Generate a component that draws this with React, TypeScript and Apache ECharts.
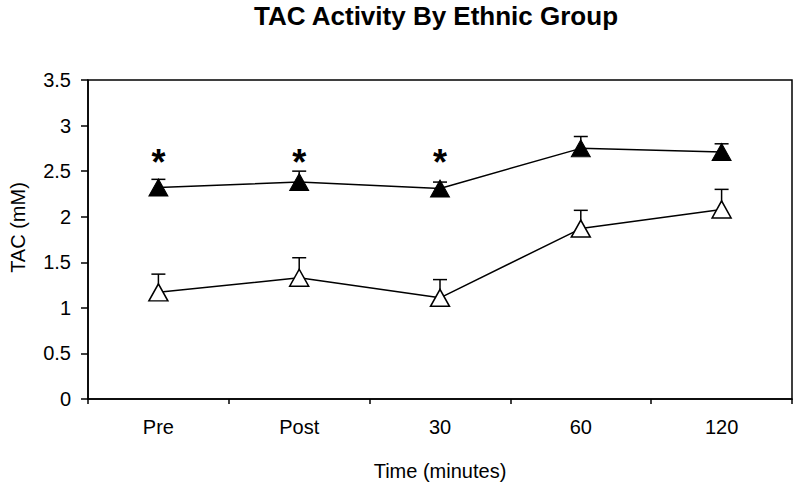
import React, { useEffect, useRef } from "react";
import * as echarts from "echarts";

const categories = ["Pre", "Post", "30", "60", "120"];
const yTicks = { min: 0, max: 3.5, interval: 0.5 };

// Filled triangles group
const groupAMeans = [2.32, 2.38, 2.31, 2.75, 2.71];
const groupAErr = [0.09, 0.12, 0.07, 0.13, 0.09];
// Open triangles group
const groupBMeans = [1.17, 1.33, 1.11, 1.87, 2.08];
const groupBErr = [0.2, 0.22, 0.2, 0.2, 0.22];
// significance markers
const significant = [true, true, true, false, false];
const starLevel = 2.6;

const FONT = "'Liberation Sans', Arial, Helvetica, sans-serif";

function errorSeries(means: number[], errs: number[]) {
  return {
    type: "custom",
    z: 2,
    silent: true,
    renderItem: (params: any, api: any) => {
      const x = api.value(0);
      const p0 = api.coord([x, api.value(1)]);
      const p1 = api.coord([x, api.value(2)]);
      const half = 7;
      return {
        type: "group",
        children: [
          {
            type: "line",
            shape: { x1: p0[0], y1: p0[1], x2: p1[0], y2: p1[1] },
            style: { stroke: "#000", lineWidth: 1.5 },
          },
          {
            type: "line",
            shape: { x1: p1[0] - half, y1: p1[1], x2: p1[0] + half, y2: p1[1] },
            style: { stroke: "#000", lineWidth: 1.5 },
          },
        ],
      };
    },
    data: means.map((m, i) => [i, m, m + errs[i]]),
  };
}

export default function App() {
  const ref = useRef<HTMLDivElement>(null);
  useEffect(() => {
    if (!ref.current) return;
    const chart = echarts.init(ref.current, null, { renderer: "svg" });
    chart.setOption({
      animation: false,
      backgroundColor: "#fff",
      title: {
        text: "TAC Activity By Ethnic Group",
        left: 436,
        top: 3,
        textAlign: "center",
        padding: 0,
        textStyle: { fontFamily: FONT, fontSize: 26, fontWeight: "bold", color: "#000" },
      },
      grid: {
        left: 87,
        right: 8,
        top: 80,
        bottom: 92,
        show: true,
        borderColor: "#000",
        borderWidth: 1.5,
        backgroundColor: "transparent",
      },
      xAxis: {
        type: "category",
        data: categories,
        boundaryGap: true,
        name: "Time (minutes)",
        nameLocation: "middle",
        nameGap: 62,
        nameTextStyle: { fontFamily: FONT, fontSize: 20, color: "#000" },
        axisLine: { show: true, lineStyle: { color: "#000", width: 1.5 } },
        axisTick: { show: true, length: 5, lineStyle: { color: "#000", width: 1.5 } },
        axisLabel: { fontFamily: FONT, fontSize: 20, color: "#000", margin: 18 },
        splitLine: { show: false },
      },
      yAxis: {
        type: "value",
        min: yTicks.min,
        max: yTicks.max,
        interval: yTicks.interval,
        name: "TAC (mM)",
        nameLocation: "middle",
        nameGap: 60,
        nameRotate: 90,
        nameTextStyle: { fontFamily: FONT, fontSize: 20, color: "#000", padding: [0, 0, 0, 24] },
        axisLine: { show: true, lineStyle: { color: "#000", width: 1.5 } },
        axisTick: { show: true, length: 7, lineStyle: { color: "#000", width: 1.5 } },
        axisLabel: { fontFamily: FONT, fontSize: 20, color: "#000", margin: 17 },
        splitLine: { show: false },
      },
      series: [
        errorSeries(groupAMeans, groupAErr),
        errorSeries(groupBMeans, groupBErr),
        {
          type: "line",
          z: 3,
          data: groupAMeans,
          symbol: "triangle",
          symbolSize: [19, 17],
          lineStyle: { color: "#000", width: 1.5 },
          itemStyle: { color: "#000", borderColor: "#000", borderWidth: 1 },
        },
        {
          type: "line",
          z: 3,
          data: groupBMeans,
          symbol: "triangle",
          symbolSize: [19, 17],
          lineStyle: { color: "#000", width: 1.5 },
          itemStyle: { color: "#fff", borderColor: "#000", borderWidth: 1.5 },
        },
        {
          type: "custom",
          z: 4,
          silent: true,
          renderItem: (params: any, api: any) => {
            const p = api.coord([api.value(0), api.value(1)]);
            return {
              type: "text",
              x: p[0],
              y: p[1],
              style: {
                text: "*",
                font: `bold 36px ${FONT}`,
                fill: "#000",
                textAlign: "center",
                textVerticalAlign: "middle",
                align: "center",
                verticalAlign: "middle",
              },
            };
          },
          data: significant
            .map((s, i) => (s ? [i, starLevel] : null))
            .filter((d) => d !== null),
        },
      ],
    });
    return () => chart.dispose();
  }, []);
  return (
    <div
      ref={ref}
      style={{ position: "fixed", left: 0, top: 0, width: 800, height: 491, background: "#fff" }}
    />
  );
}
